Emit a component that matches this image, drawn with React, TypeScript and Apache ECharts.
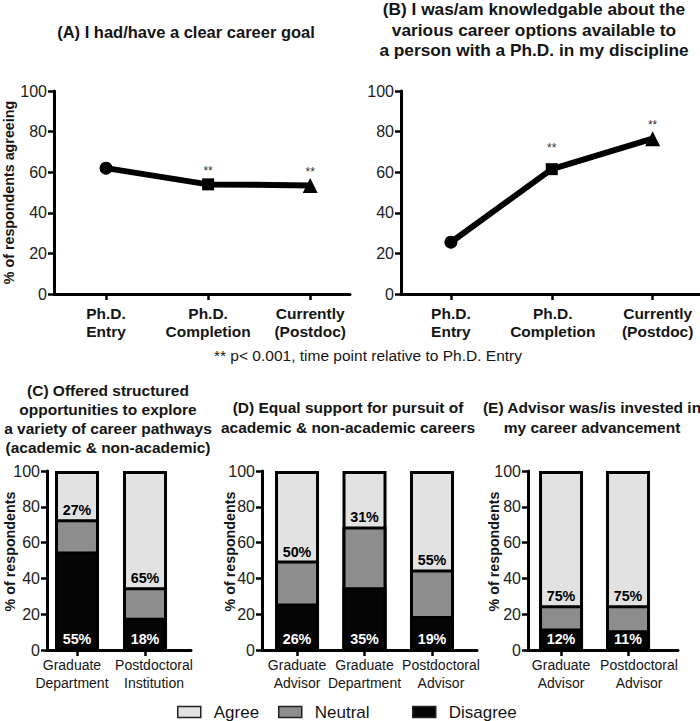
import React, { useEffect, useRef } from 'react';
import * as echarts from 'echarts';

const FONT = '"Liberation Sans", Arial, Helvetica, sans-serif';

// Panels A & B (line charts)
const timeCategories = ['Ph.D.\nEntry', 'Ph.D.\nCompletion', 'Currently\n(Postdoc)'];
const goalValues = [62, 54, 53.5];
const knowledgeValues = [25.5, 61.5, 76.5];
const pointSymbols = ['circle', 'rect', 'triangle'];
const pointStars = ['', '**', '**'];

// Panel C
const cCategories = ['Graduate\nDepartment', 'Postdoctoral\nInstitution'];
const cDisagree = [55, 18];
const cNeutral = [18, 17];
const cAgree = [27, 65];

// Panel D
const dCategories = ['Graduate\nAdvisor', 'Graduate\nDepartment', 'Postdoctoral\nAdvisor'];
const dDisagree = [26, 35, 19];
const dNeutral = [24, 34, 26];
const dAgree = [50, 31, 55];

// Panel E
const eCategories = ['Graduate\nAdvisor', 'Postdoctoral\nAdvisor'];
const eDisagree = [12, 11];
const eNeutral = [13, 14];
const eAgree = [75, 75];

const AGREE = '#e2e2e2';
const NEUTRAL = '#8d8d8d';
const DISAGREE = '#050505';
const INK = '#151515';

function idx(n: number) {
  return Array.from({ length: n }, (_, i) => i);
}

// labelNudge: small horizontal offsets (in category units) of the tick labels
function xAxisFor(
  gridIndex: number,
  cats: string[],
  min: number,
  max: number,
  bold: boolean,
  fontSize: number,
  margin: number,
  labelNudge: number[],
) {
  const ticks = idx(cats.length);
  const labelPositions = ticks.map((i) => i + (labelNudge[i] || 0));
  return {
    gridIndex,
    type: 'value',
    min,
    max,
    axisLine: { show: true, onZero: false, lineStyle: { color: '#000', width: 3 } },
    axisTick: { show: true, customValues: ticks, length: 6, lineStyle: { color: '#000', width: 2.5 } },
    axisLabel: {
      customValues: labelPositions,
      hideOverlap: false,
      showMinLabel: true,
      showMaxLabel: true,
      formatter: (v: number) => cats[Math.round(v)] ?? '',
      fontFamily: FONT,
      fontSize,
      fontWeight: bold ? 'bold' : 'normal',
      lineHeight: 18,
      color: INK,
      margin,
    },
    splitLine: { show: false },
  };
}

function yAxisFor(gridIndex: number, name: string, nameGap: number, namePad: number) {
  return {
    gridIndex,
    type: 'value',
    min: 0,
    max: 100,
    interval: 20,
    name,
    nameLocation: 'middle',
    nameGap,
    nameRotate: 90,
    nameMoveOverlap: false,
    nameTextStyle: {
      fontFamily: FONT,
      fontSize: 14.3,
      fontWeight: 'bold',
      color: INK,
      padding: [0, 0, 0, namePad],
    },
    axisLine: { show: true, onZero: false, lineStyle: { color: '#000', width: 3 } },
    axisTick: { show: true, length: 6, lineStyle: { color: '#000', width: 2.5 } },
    axisLabel: { fontFamily: FONT, fontSize: 16, color: '#222', margin: 7 },
    splitLine: { show: false },
  };
}

function lineSeries(gridIndex: number, values: number[], starDist: number[]) {
  return {
    type: 'line',
    xAxisIndex: gridIndex,
    yAxisIndex: gridIndex,
    lineStyle: { color: '#000', width: 6 },
    itemStyle: { color: '#000' },
    symbolSize: 13,
    label: { show: false },
    emphasis: { disabled: true },
    data: values.map((v, i) => ({
      value: [i, v],
      symbol: pointSymbols[i],
      symbolSize: pointSymbols[i] === 'rect' ? 12 : pointSymbols[i] === 'triangle' ? 15 : 13,
      label: {
        show: pointStars[i] !== '',
        formatter: pointStars[i],
        position: 'top',
        distance: starDist[i],
        fontFamily: FONT,
        fontSize: 12,
        color: '#333',
      },
    })),
  };
}

const barLabelBase = {
  fontFamily: FONT,
  fontSize: 14.3,
  fontWeight: 'bold',
};

// Segments are drawn as overlapping bars (total behind, then cumulative neutral, then disagree)
function panelBars(gridIndex: number, dis: number[], neu: number[], agr: number[]) {
  const neuTop = dis.map((d, i) => d + neu[i]);
  const total = neuTop.map((t, i) => t + agr[i]);
  const common = {
    type: 'bar',
    xAxisIndex: gridIndex,
    yAxisIndex: gridIndex,
    barWidth: 44,
    barGap: '-100%',
    emphasis: { disabled: true },
  };
  return [
    {
      ...common,
      name: 'Agree',
      itemStyle: { color: AGREE, borderColor: '#000', borderWidth: 3 },
      label: { show: false },
      data: total.map((v, i) => [i, v]),
    },
    {
      ...common,
      name: 'Neutral',
      itemStyle: { color: NEUTRAL, borderColor: '#000', borderWidth: 3 },
      label: {
        ...barLabelBase,
        show: true,
        position: 'top',
        distance: 2,
        color: '#000',
        formatter: (p: any) => agr[p.dataIndex] + '%',
      },
      data: neuTop.map((v, i) => [i, v]),
    },
    {
      ...common,
      name: 'Disagree',
      itemStyle: { color: DISAGREE, borderColor: '#000', borderWidth: 3 },
      label: {
        ...barLabelBase,
        show: true,
        position: 'insideBottom',
        distance: 4,
        color: '#fff',
        formatter: (p: any) => dis[p.dataIndex] + '%',
      },
      data: dis.map((v, i) => [i, v]),
    },
  ];
}

function legendFor(name: string, left: number) {
  return {
    data: [name],
    left,
    top: 702,
    padding: 0,
    icon: 'rect',
    itemWidth: 23,
    itemHeight: 11,
    selectedMode: false,
    itemStyle: { borderWidth: 1.5, borderColor: '#222' },
    textStyle: { fontFamily: FONT, fontSize: 17, color: INK, lineHeight: 20, padding: [0, 0, 0, 8] },
  };
}

function titleText(x: number, y: number, text: string, fontSize: number, lineHeight: number, bold = true) {
  return {
    type: 'text',
    x,
    y,
    silent: true,
    style: {
      text,
      align: 'center',
      verticalAlign: 'top',
      fontFamily: FONT,
      fontSize,
      fontWeight: bold ? 'bold' : 'normal',
      lineHeight,
      fill: INK,
    },
  };
}

export default function App() {
  const ref = useRef<HTMLDivElement>(null);

  useEffect(() => {
    document.body.style.margin = '0';
    if (!ref.current) return;
    const chart = echarts.init(ref.current, null, { renderer: 'svg' });
    const option: any = {
      animation: false,
      grid: [
        { left: 54, top: 91, width: 296, height: 203, outerBoundsMode: 'none' },
        { left: 401, top: 91, width: 299, height: 203, outerBoundsMode: 'none' },
        { left: 47, top: 471, width: 144, height: 179, outerBoundsMode: 'none' },
        { left: 262, top: 471, width: 215, height: 179, outerBoundsMode: 'none' },
        { left: 528, top: 471, width: 150, height: 179, outerBoundsMode: 'none' },
      ],
      xAxis: [
        xAxisFor(0, timeCategories, -0.51, 2.39, true, 15.5, 10, [0, 0, 0]),
        xAxisFor(1, timeCategories, -0.495, 2.47, true, 15.5, 10, [0, 0.01, 0.05]),
        xAxisFor(2, cCategories, -0.441, 1.676, false, 14, 6, [-0.074, 0.132]),
        xAxisFor(3, dCategories, -0.519, 2.667, false, 14, 6, [0, 0, 0.133]),
        xAxisFor(4, eCategories, -0.493, 1.746, false, 14, 6, [0, 0.164]),
      ],
      yAxis: [
        yAxisFor(0, '% of respondents agreeing', 38, 0),
        yAxisFor(1, '', 40, 0),
        yAxisFor(2, '% of respondents', 30, 18),
        yAxisFor(3, '% of respondents', 25, 18),
        yAxisFor(4, '% of respondents', 27, 18),
      ],
      legend: [legendFor('Agree', 177), legendFor('Neutral', 278), legendFor('Disagree', 412)],
      series: [
        lineSeries(0, goalValues, [0, 1, 0]),
        lineSeries(1, knowledgeValues, [0, 9, 0]),
        ...panelBars(2, cDisagree, cNeutral, cAgree),
        ...panelBars(3, dDisagree, dNeutral, dAgree),
        ...panelBars(4, eDisagree, eNeutral, eAgree),
      ],
      graphic: [
        titleText(186, 23, '(A) I had/have a clear career goal', 16.5, 18),
        titleText(534, -1, '(B) I was/am knowledgable about the\nvarious career options available to\na person with a Ph.D. in my discipline', 17.3, 20.5),
        titleText(368, 346, '** p< 0.001, time point relative to Ph.D. Entry', 15.5, 18, false),
        titleText(108, 380.5, '(C) Offered structured\nopportunities to explore\na variety of career pathways\n(academic & non-academic)', 15.5, 19),
        titleText(348, 397, '(D) Equal support for pursuit of\nacademic & non-academic careers', 15.5, 20),
        titleText(592, 397, '(E) Advisor was/is invested in\nmy career advancement', 15.5, 20),
      ],
    };
    chart.setOption(option);
    return () => chart.dispose();
  }, []);

  return <div ref={ref} style={{ width: 700, height: 721 }} />;
}
